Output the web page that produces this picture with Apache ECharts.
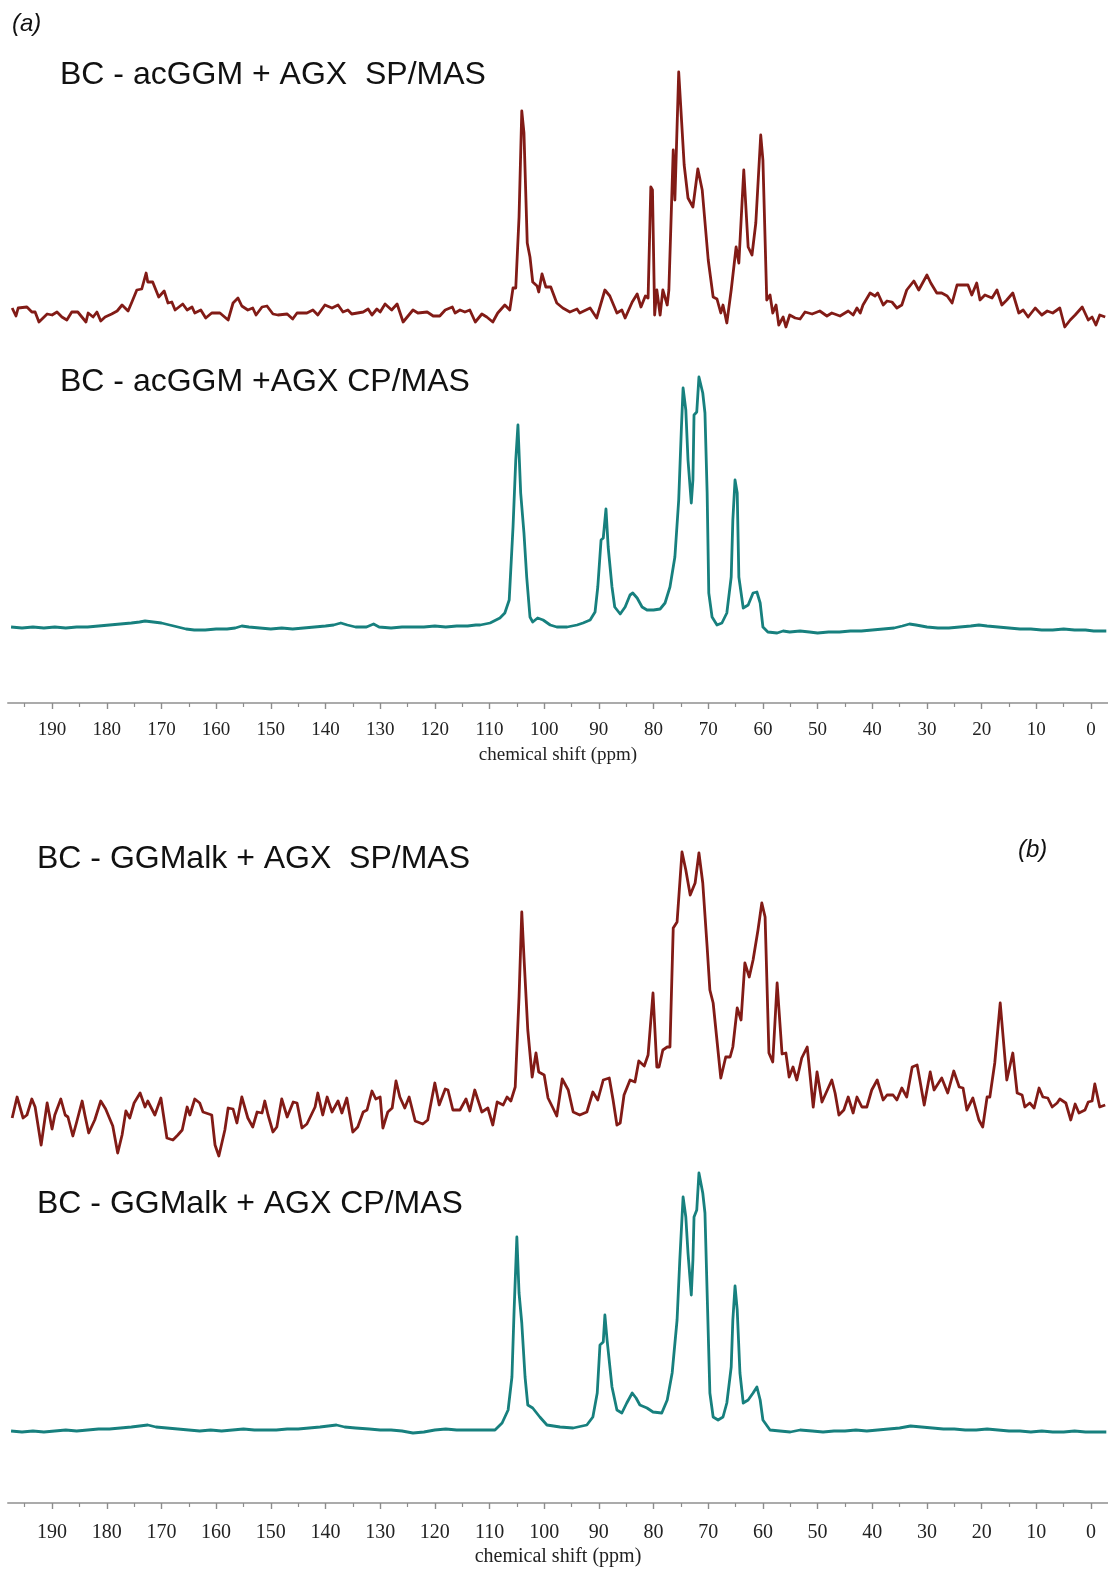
<!DOCTYPE html>
<html>
<head>
<meta charset="utf-8">
<script src="https://cdn.jsdelivr.net/npm/echarts@6/dist/echarts.min.js"></script>
<style>
  html, body { margin: 0; padding: 0; background: #fff; }
  #chart { width: 1108px; height: 1570px; }
</style>
</head>
<body>
<div id="chart"></div>
<script>
// 13C solid-state NMR spectra, [chemical shift (ppm), intensity (a.u.)]

// (a) BC - acGGM + AGX, single-pulse MAS
const spA = [
  [197.3,5],[196.6,-3],[196.2,5],[194.6,6],[193.7,1],[193.1,1],[192.4,-9],[190.9,-1],[190.0,-2],[189.1,1],
  [188.2,-4],[187.3,-7],[186.4,1],[185.3,1],[183.8,-9],[183.4,0],[182.5,-4],[181.8,1],[181.1,-8],[180.3,-4],
  [179.1,-1],[178.1,2],[177.2,8],[176.1,2],[175.4,11],[174.5,23],[173.6,24],[172.8,40],[172.5,31],[171.6,31],
  [170.5,16],[169.5,22],[168.8,10],[168.1,11],[167.5,3],[166.1,9],[165.3,3],[164.4,6],[163.9,0],[162.8,3],
  [161.9,-5],[160.8,0],[159.3,0],[157.8,-7],[156.9,10],[156.0,15],[155.3,7],[154.2,3],[153.3,5],[152.7,-2],
  [151.6,6],[150.7,7],[149.6,-1],[148.7,-2],[147.0,-1],[146.0,-6],[145.2,0],[143.4,0],[142.3,3],[141.4,-2],
  [140.1,8],[138.8,5],[137.7,8],[136.8,1],[135.9,3],[135.2,-1],[133.1,1],[132.2,4],[131.5,-2],[130.6,4],
  [130.0,1],[129.1,9],[127.9,3],[126.9,9],[125.8,-9],[124.0,3],[123.1,0],[121.4,1],[120.3,-3],[119.1,-3],
  [118.1,3],[116.8,6],[116.3,0],[115.4,3],[114.5,1],[113.6,3],[112.6,-9],[111.4,-1],[110.5,-4],[109.4,-9],
  [108.5,0],[107.2,8],[106.3,3],[105.7,25],[105.2,25],[104.6,96],[104.1,202],[103.7,180],[103.1,70],[102.6,56],
  [102.1,31],[101.3,27],[101.0,21],[100.4,39],[99.7,26],[98.8,26],[97.7,10],[96.6,5],[95.3,1],[94.0,4],
  [93.5,0],[91.6,5],[90.4,-5],[88.9,23],[88.0,17],[86.7,0],[85.8,3],[85.2,-5],[83.9,11],[83.0,19],
  [82.3,6],[81.5,17],[81.0,15],[80.5,126],[80.2,123],[79.8,-2],[79.4,23],[78.8,-2],[78.3,23],[77.5,8],
  [77.2,23],[76.4,163],[76.1,113],[75.4,241],[74.4,148],[73.7,115],[72.8,106],[71.9,144],[71.1,123],[70.0,53],
  [69.1,16],[68.4,14],[67.7,0],[67.3,8],[66.6,-10],[65.8,23],[64.9,66],[64.4,50],[63.5,143],[62.7,66],
  [62.0,58],[61.3,90],[60.4,178],[60.0,153],[59.3,13],[58.7,18],[58.2,0],[57.6,8],[57.1,-12],[56.3,-4],
  [55.8,-14],[55.1,-2],[54.1,-5],[53.2,-6],[52.3,1],[51.0,-1],[49.6,2],[48.3,-3],[47.4,0],[45.9,-3],
  [44.4,2],[43.5,-2],[42.8,5],[42.2,0],[41.7,8],[40.4,20],[39.5,17],[39.0,20],[38.0,8],[37.3,12],
  [36.4,11],[35.5,5],[34.6,8],[33.7,23],[32.4,32],[31.5,23],[30.0,38],[29.3,30],[28.2,20],[27.3,20],
  [26.3,17],[25.4,10],[24.5,28],[22.5,28],[21.8,18],[20.9,30],[20.3,13],[19.4,18],[18.1,15],[17.2,23],
  [16.3,8],[15.4,13],[14.3,20],[13.2,0],[12.4,3],[11.5,-4],[10.2,5],[9.0,-2],[8.0,2],[7.0,0],
  [5.7,5],[4.8,-14],[3.8,-7],[2.9,-2],[1.6,6],[0.5,-7],[-0.2,-4],[-0.9,-12],[-1.6,-2],[-2.6,-4]
];

// (a) BC - acGGM + AGX, cross-polarisation MAS
const cpA = [
  [197.5,1],[195.5,0],[193.5,1],[191.5,0],[189.5,1],[187.5,0],[185.5,1],[183.5,1],[181.5,2],[179.5,3],
  [177.5,4],[175.5,5],[174,6],[173,7],[171.5,6],[170,5],[168.5,3],[167,1],[165.5,-1],[164,-2],
  [162,-2],[160,-1],[158,-1],[156.5,0],[155.3,2],[154,1],[152,0],[150,-1],[148,0],[146,-1],
  [144,0],[142,1],[140,2],[138.5,3],[137.2,5],[136,3],[134.5,1],[132.5,1],[131.2,4],[130.2,1],
  [128,0],[126,1],[124,1],[122,1],[120,2],[118,1],[116,2],[114,2],[112.5,3],[111.7,3],
  [109.9,5],[108.1,10],[107.2,15],[106.4,28],[105.7,101],[105.2,168],[104.8,203],[104.3,135],[103.7,95],[103.2,51],
  [102.6,11],[102.1,6],[101.2,10],[100.2,8],[98.9,3],[97.7,1],[95.8,1],[94.0,3],[92.9,5],[91.6,8],
  [90.7,16],[90.2,41],[89.6,88],[89.2,90],[88.7,119],[88.3,81],[87.6,41],[87.1,21],[86.1,14],[85.2,21],
  [84.3,33],[83.8,35],[83.0,30],[82.1,21],[81.2,18],[80.0,18],[78.8,19],[77.9,25],[77.0,41],[76.1,71],
  [75.4,128],[74.9,201],[74.6,240],[74.1,218],[73.7,168],[73.1,125],[72.8,148],[72.6,213],[72.1,216],[71.7,251],
  [71.0,235],[70.6,215],[70.2,135],[69.9,35],[69.3,11],[68.4,3],[67.5,5],[66.6,15],[65.8,51],[65.5,108],
  [65.1,148],[64.7,135],[64.4,51],[63.6,20],[62.7,23],[61.8,35],[61.1,36],[60.5,25],[60.0,1],[59.1,-4],
  [57.4,-5],[56.3,-3],[55.1,-4],[53.2,-3],[51.5,-4],[50,-5],[48,-4],[46,-4],[44,-3],[42,-3],
  [40,-2],[38,-1],[36,0],[34.5,2],[33.2,4],[32,3],[30,1],[28,0],[26,0],[24,1],
  [22,2],[20.5,3],[19,2],[17,1],[15,0],[13,-1],[11,-1],[9,-2],[7,-2],[5,-1],
  [3,-2],[1,-2],[-0.5,-3],[-2.8,-3]
];

// (b) BC - GGMalk + AGX, single-pulse MAS
const spB = [
  [197.3,-18],[196.4,3],[195.3,-18],[194.6,-15],[193.7,1],[193.1,-7],[192.0,-45],[190.9,-3],[190.0,-29],[189.5,-15],
  [188.4,1],[187.6,-15],[187.1,-17],[186.2,-36],[185.5,-22],[184.5,-1],[184.0,-15],[183.3,-33],[182.2,-20],[181.1,-1],
  [180.2,-9],[178.9,-26],[178.0,-53],[177.2,-35],[176.5,-11],[175.8,-18],[175.0,-3],[173.9,7],[173.0,-7],[172.5,-1],
  [171.2,-15],[170.1,2],[169.0,-38],[167.9,-40],[167.0,-35],[166.2,-30],[165.3,-7],[164.8,-15],[163.9,1],[163.0,-3],
  [162.4,-12],[160.8,-15],[160.2,-45],[159.5,-56],[158.4,-30],[157.8,-8],[156.9,-9],[156.2,-23],[155.3,3],[154.2,-18],
  [153.3,-27],[152.5,-12],[151.6,-13],[151.1,-1],[150.5,-15],[149.6,-32],[148.9,-27],[148.0,1],[147.0,-17],[145.9,-2],
  [145.2,-3],[144.3,-28],[143.4,-24],[141.9,-7],[141.4,7],[140.5,-15],[139.7,3],[138.8,-12],[137.7,-1],[137.0,-13],
  [136.1,2],[135.0,-32],[134.1,-27],[133.1,-12],[132.4,-10],[131.5,9],[130.8,1],[130.0,3],[129.5,-28],[128.6,-12],
  [127.8,-8],[127.1,19],[126.4,3],[125.5,-8],[124.7,3],[123.6,-21],[122.2,-24],[121.3,-20],[120.0,17],[119.2,-5],
  [118.1,11],[117.6,10],[116.7,-10],[115.4,-10],[114.3,1],[113.6,-11],[112.7,10],[111.4,-12],[110.3,-8],[109.4,-25],
  [108.6,-2],[107.5,-5],[106.8,3],[106.1,-1],[105.3,13],[104.6,103],[104.1,188],[103.7,143],[103.0,70],[102.2,23],
  [101.5,47],[101.0,28],[100.0,25],[99.3,2],[98.4,-8],[97.7,-16],[96.7,21],[95.6,10],[94.7,-12],[93.5,-15],
  [92.2,-12],[91.1,8],[90.2,0],[89.2,20],[88.1,22],[87.4,0],[86.7,-25],[86.1,-23],[85.4,5],[84.3,20],
  [83.4,18],[82.7,39],[81.7,34],[81.0,45],[80.1,107],[79.4,33],[79.0,33],[78.3,50],[77.5,53],[77.0,53],
  [76.4,172],[75.7,178],[74.8,248],[74.1,230],[73.3,205],[72.4,217],[71.7,247],[71.0,217],[70.2,153],[69.7,110],
  [69.1,97],[67.7,22],[66.8,43],[66.0,43],[65.5,53],[64.7,92],[64.0,80],[63.3,137],[62.5,123],[61.8,140],
  [60.9,170],[60.2,197],[59.6,183],[58.9,47],[58.2,38],[57.4,117],[56.5,46],[55.8,47],[55.2,23],[54.5,33],
  [53.8,20],[52.9,42],[51.9,53],[51.6,37],[50.8,-7],[50.1,28],[49.2,-2],[47.4,20],[46.8,7],[46.1,-15],
  [45.2,-10],[44.4,3],[43.5,-13],[42.8,3],[41.9,-7],[41.0,-7],[40.1,10],[39.1,20],[38.0,0],[37.3,5],
  [36.2,5],[35.5,0],[34.6,12],[33.7,3],[32.7,33],[31.8,35],[31.3,20],[30.5,-5],[29.4,28],[28.7,10],
  [27.3,22],[26.2,7],[25.1,29],[24.1,13],[23.4,12],[22.7,-10],[21.6,2],[20.5,-20],[19.8,-27],[19.0,3],
  [18.5,3],[17.6,37],[16.6,97],[15.4,20],[14.3,47],[13.5,7],[12.6,5],[12.1,-7],[11.2,-3],[10.4,-8],
  [9.5,12],[8.8,3],[7.9,2],[7.1,-7],[6.2,-3],[5.7,1],[4.6,-3],[3.7,-20],[2.9,-4],[2.2,-13],
  [1.1,-10],[0.5,-2],[-0.2,-1],[-0.7,16],[-1.6,-7],[-2.6,-5]
];

// (b) BC - GGMalk + AGX, cross-polarisation MAS
const cpB = [
  [197.5,-1],[195.5,-2],[193.5,-1],[191.5,-2],[189.5,-1],[187.5,0],[185.5,-1],[183.5,0],[181.5,1],[179.5,1],
  [177.5,2],[175.5,3],[174,4],[172.5,5],[171,3],[169,2],[167,1],[165,0],[163,-1],[161,0],
  [159,-1],[157,0],[155,1],[153,0],[151,0],[149,0],[147,1],[145,1],[143,2],[141,3],
  [139.5,4],[138,5],[136.5,3],[134.5,2],[132,1],[130,0],[128,0],[126,-1],[124,-3],[122,-2],
  [120,0],[118,1],[116,0],[114,0],[112,0],[109,0],[107.7,7],[106.6,20],[105.9,53],[105.5,120],
  [105.0,193],[104.6,137],[104.1,107],[103.5,53],[103.0,25],[102.1,22],[100.8,13],[99.5,5],[97.1,3],[94.7,2],
  [92.2,5],[91.1,13],[90.3,37],[89.8,85],[89.2,88],[88.9,115],[88.5,90],[87.6,43],[86.7,20],[85.8,17],
  [84.9,27],[83.9,37],[83.2,32],[82.5,25],[81.2,22],[80.1,18],[78.5,17],[77.5,30],[76.6,57],[75.7,110],
  [75.2,170],[74.6,233],[74.1,213],[73.7,177],[73.1,135],[72.8,170],[72.6,213],[72.1,220],[71.7,257],[71.0,237],
  [70.6,217],[70.2,137],[69.7,37],[69.1,13],[68.2,10],[67.3,13],[66.6,27],[65.8,63],[65.5,110],[65.1,144],
  [64.7,120],[64.2,57],[63.6,27],[62.7,30],[61.8,37],[61.1,43],[60.5,30],[60.0,10],[58.7,0],[56.9,-1],
  [55.0,-2],[53.2,0],[51,-1],[49,-2],[47,-1],[45,-1],[43,0],[41,-1],[39,0],[37,1],
  [35,2],[33,4],[31,3],[29,2],[27,1],[25,1],[23,0],[21,0],[19,1],[17,0],
  [15,-1],[13,-1],[11,-2],[9,-1],[7,-2],[5,-2],[3,-1],[1,-2],[-1,-2],[-2.8,-2]
];

// Axis ticks (ppm)
const majorTicks = [0, 10, 20, 30, 40, 50, 60, 70, 80, 90, 100, 110, 120, 130, 140, 150, 160, 170, 180, 190];
const minorTicks = [5, 15, 25, 35, 45, 55, 65, 75, 85, 95, 105, 115, 125, 135, 145, 155, 165, 175, 185, 195];

const spectrumLabels = [
  'BC - acGGM + AGX  SP/MAS',
  'BC - acGGM +AGX CP/MAS',
  'BC - GGMalk + AGX  SP/MAS',
  'BC - GGMalk + AGX CP/MAS'
];
const panelLabels = ['(a)', '(b)'];
const axisTitle = 'chemical shift (ppm)';

const PPM_LOW = -3.11, PPM_HIGH = 198.06;
const RED = '#821b16', TEAL = '#17807e';

const chart = echarts.init(document.getElementById('chart'), null, { renderer: 'canvas' });

const grids = [
  { left: 8, width: 1100, top: 53, height: 300 },
  { left: 8, width: 1100, top: 358, height: 345 },
  { left: 8, width: 1100, top: 840, height: 340 },
  { left: 8, width: 1100, top: 1160, height: 343 }
];
const yRanges = [[-40, 260], [-75, 270], [-80, 260], [-73, 270]];

function serifText(size) {
  return { fontFamily: 'Liberation Serif', fontSize: size, color: '#222' };
}

function hiddenX(g) {
  return { type: 'value', gridIndex: g, inverse: true, min: PPM_LOW, max: PPM_HIGH, show: false, position: 'bottom' };
}
function shownX(g, labelSize, labelMargin, titleGap) {
  return {
    type: 'value', gridIndex: g, inverse: true, min: PPM_LOW, max: PPM_HIGH, position: 'bottom',
    axisLine: { show: true, onZero: false, lineStyle: { color: '#ababab', width: 2 } },
    axisTick: { show: true, customValues: majorTicks, length: 6, lineStyle: { color: '#8c8c8c', width: 1.4 } },
    axisLabel: Object.assign({ show: true, customValues: majorTicks, margin: labelMargin }, serifText(labelSize)),
    splitLine: { show: false },
    name: axisTitle, nameLocation: 'middle', nameGap: titleGap, nameTextStyle: serifText(labelSize)
  };
}
function minorX(g) {
  return {
    type: 'value', gridIndex: g, inverse: true, min: PPM_LOW, max: PPM_HIGH, position: 'bottom',
    axisLine: { show: false, onZero: false },
    axisTick: { show: true, customValues: minorTicks, length: 4, lineStyle: { color: '#8c8c8c', width: 1.2 } },
    axisLabel: { show: false },
    splitLine: { show: false }
  };
}

const xAxes = [hiddenX(0), shownX(1, 19, 18, 43), minorX(1), hiddenX(2), shownX(3, 20, 20, 44), minorX(3)];
const yAxes = yRanges.map((r, i) => ({ type: 'value', gridIndex: i, min: r[0], max: r[1], show: false }));

function spectrum(data, xi, yi, color) {
  return {
    type: 'line', data: data, xAxisIndex: xi, yAxisIndex: yi,
    showSymbol: false, symbol: 'none', silent: true, clip: false,
    lineStyle: { color: color, width: 2.8, join: 'round' }
  };
}

const sansLabel = (text, x, y, size, italic) => ({
  type: 'text', left: x, top: y,
  style: {
    text: text, fill: '#111', font: (italic ? 'italic ' : '') + size + 'px "Liberation Sans", Arial, sans-serif'
  }
});

chart.setOption({
  animation: false,
  backgroundColor: '#fff',
  grid: grids,
  xAxis: xAxes,
  yAxis: yAxes,
  series: [
    spectrum(spA, 0, 0, RED),
    spectrum(cpA, 1, 1, TEAL),
    spectrum(spB, 3, 2, RED),
    spectrum(cpB, 4, 3, TEAL)
  ],
  graphic: [
    sansLabel(panelLabels[0], 12, 12, 24, true),
    sansLabel(spectrumLabels[0], 60, 59, 32, false),
    sansLabel(spectrumLabels[1], 60, 366, 32, false),
    sansLabel(spectrumLabels[2], 37, 843, 32, false),
    sansLabel(panelLabels[1], 1018, 838, 24, true),
    sansLabel(spectrumLabels[3], 37, 1188, 32, false)
  ]
});
</script>
</body>
</html>
